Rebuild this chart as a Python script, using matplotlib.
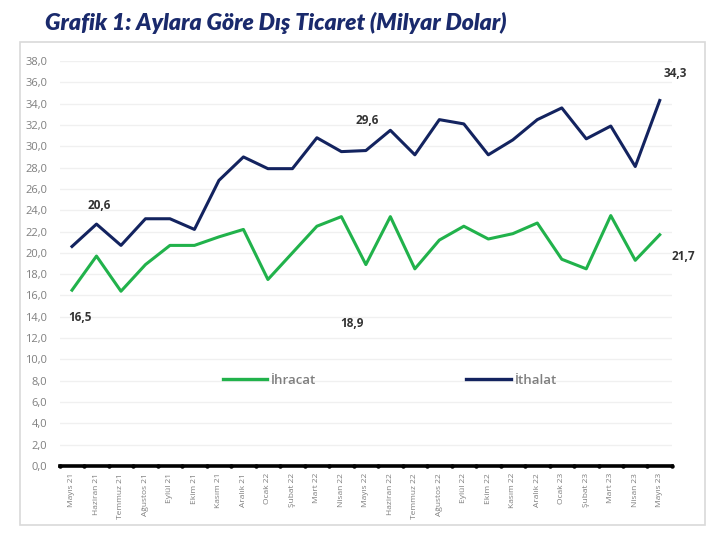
import matplotlib.pyplot as plt
import numpy as np
from matplotlib.patches import Rectangle

months = ['Mayıs 21', 'Haziran 21', 'Temmuz 21', 'Ağustos 21', 'Eylül 21', 'Ekim 21',
          'Kasım 21', 'Aralık 21', 'Ocak 22', 'Şubat 22', 'Mart 22', 'Nisan 22',
          'Mayıs 22', 'Haziran 22', 'Temmuz 22', 'Ağustos 22', 'Eylül 22', 'Ekim 22',
          'Kasım 22', 'Aralık 22', 'Ocak 23', 'Şubat 23', 'Mart 23', 'Nisan 23', 'Mayıs 23']
ihracat = [16.5, 19.7, 16.4, 18.9, 20.7, 20.7, 21.5, 22.2, 17.5, 20.0, 22.5, 23.4,
           18.9, 23.4, 18.5, 21.2, 22.5, 21.3, 21.8, 22.8, 19.4, 18.5, 23.5, 19.3, 21.7]
ithalat = [20.6, 22.7, 20.7, 23.2, 23.2, 22.2, 26.8, 29.0, 27.9, 27.9, 30.8, 29.5,
           29.6, 31.5, 29.2, 32.5, 32.1, 29.2, 30.6, 32.5, 33.6, 30.7, 31.9, 28.1, 34.3]

green = '#21b24b'
navy = '#13235f'

plt.rcParams['font.family'] = ['Open Sans', 'DejaVu Sans']

fig = plt.figure(figsize=(7.26, 5.41), dpi=100)
ax = fig.add_axes([0.0823, 0.1386, 0.9256 - 0.0823, 0.8872 - 0.1386])

# chart frame
fig.patches.append(Rectangle((20 / 726, 1 - 525 / 541), 685 / 726, 483 / 541,
                             transform=fig.transFigure, fill=False,
                             edgecolor='#d9d9d9', linewidth=1.2))

fig.text(45 / 726, 1 - 23 / 541, 'Grafik 1: Aylara Göre Dış Ticaret (Milyar Dolar)',
         fontsize=16.6, fontweight='heavy', style='italic', color='#1a2a6c', va='center',
         family=['Lato', 'DejaVu Sans'])

x = np.arange(len(months))
ax.plot(x, ihracat, color=green, linewidth=2.2, label='İhracat')
ax.plot(x, ithalat, color=navy, linewidth=2.2, label='İthalat')

ax.set_xlim(-0.5, len(months) - 0.5)
ax.set_ylim(0, 38)
yt = np.arange(0, 39, 2)
ax.set_yticks(yt)
ax.set_yticklabels([f'{v:.1f}'.replace('.', ',') for v in yt], fontsize=8, color='#7f7f7f')
ax.set_xticks(x)
ax.set_xticklabels(months, rotation=90, fontsize=6, color='#7f7f7f')
ax.tick_params(axis='y', length=0, pad=9)
ax.tick_params(axis='x', length=0, pad=5)
ax.grid(axis='y', color='#f0f0f0', linewidth=1)
ax.set_axisbelow(True)
for s in ax.spines.values():
    s.set_visible(False)

# thick zero axis with small tick dots
ax.axhline(0, color='black', linewidth=2.6, clip_on=False, zorder=3)
ax.plot(np.arange(-0.5, len(months)), np.zeros(len(months) + 1), 'o', color='black',
        markersize=2.2, clip_on=False, zorder=3)

notes = [(0, ithalat[0], (27, 41)), (0, ihracat[0], (8, -27)),
         (12, ithalat[12], (1, 30)), (12, ihracat[12], (-14, -59)),
         (24, ithalat[24], (16, 27)), (24, ihracat[24], (24, -22))]
for i, v, off in notes:
    ax.annotate(f'{v:.1f}'.replace('.', ','), (i, v), xytext=off, textcoords='offset pixels',
                ha='center', va='center', fontsize=8.5, fontweight='bold', color='#333333')

leg = ax.legend(loc='center', bbox_to_anchor=(0.539, 0.212), ncol=2, frameon=False,
                handlelength=3.4, handletextpad=0.25, columnspacing=11.4,
                prop={'size': 9.5, 'weight': 'semibold'}, labelcolor='#7f7f7f')
for h in leg.get_lines():
    h.set_linewidth(2.4)

fig.savefig('out.png', dpi=100)
